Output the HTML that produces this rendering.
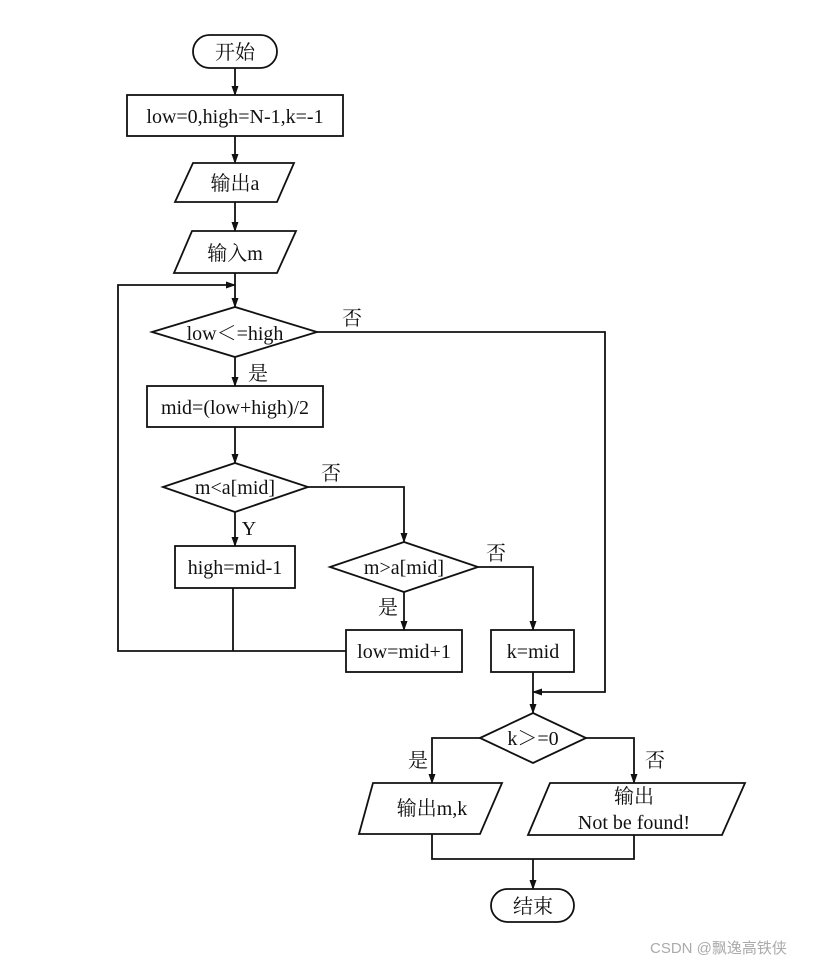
<!DOCTYPE html>
<html><head><meta charset="utf-8"><style>
html,body{margin:0;padding:0;background:#fff;}
svg text{font-family:"Liberation Serif","Noto Serif CJK SC","Noto Sans CJK SC",serif;font-size:20px;fill:#111;}
</style></head><body>
<svg width="838" height="969" viewBox="0 0 838 969" xmlns="http://www.w3.org/2000/svg">
<defs>
<marker id="a" markerWidth="10" markerHeight="10" refX="9" refY="5" orient="auto" markerUnits="userSpaceOnUse">
<path d="M0,1.5 L10,5 L0,8.5 Z" fill="#111"/>
</marker>
</defs>
<g stroke="#111" stroke-width="1.8" fill="none">
<rect x="193" y="35" width="84" height="33" rx="16.5"/>
<line x1="235" y1="68" x2="235" y2="95" marker-end="url(#a)"/>
<rect x="127" y="95" width="216" height="41"/>
<line x1="235" y1="136" x2="235" y2="163" marker-end="url(#a)"/>
<polygon points="193,163 294,163 277,202 175,202"/>
<line x1="235" y1="202" x2="235" y2="231" marker-end="url(#a)"/>
<polygon points="192,231 296,231 277,273 174,273"/>
<line x1="235" y1="273" x2="235" y2="307" marker-end="url(#a)"/>
<polyline points="346,651 118,651 118,285 235,285" marker-end="url(#a)"/>
<line x1="233" y1="588" x2="233" y2="651"/>
<polygon points="152,332 235,307 317,332 235,357"/>
<polyline points="317,332 605,332 605,692 533,692" marker-end="url(#a)"/>
<line x1="235" y1="357" x2="235" y2="386" marker-end="url(#a)"/>
<rect x="147" y="386" width="176" height="41"/>
<line x1="235" y1="427" x2="235" y2="463" marker-end="url(#a)"/>
<polygon points="163,487 235,463 308,487 235,512"/>
<polyline points="308,487 404,487 404,542" marker-end="url(#a)"/>
<line x1="235" y1="512" x2="235" y2="546" marker-end="url(#a)"/>
<rect x="175" y="546" width="120" height="42"/>
<polygon points="330,567 404,542 478,567 404,592"/>
<polyline points="478,567 533,567 533,630" marker-end="url(#a)"/>
<line x1="404" y1="592" x2="404" y2="630" marker-end="url(#a)"/>
<rect x="346" y="630" width="116" height="42"/>
<rect x="491" y="630" width="83" height="42"/>
<line x1="533" y1="672" x2="533" y2="713" marker-end="url(#a)"/>
<polygon points="480,738 533,713 586,738 533,763"/>
<polyline points="480,738 432,738 432,783" marker-end="url(#a)"/>
<polyline points="586,738 634,738 634,783" marker-end="url(#a)"/>
<polygon points="373,783 502,783 480,834 359,834"/>
<polygon points="550,783 745,783 722,835 528,835"/>
<polyline points="432,834 432,859 634,859 634,835"/>
<line x1="533" y1="859" x2="533" y2="889" marker-end="url(#a)"/>
<rect x="491" y="889" width="83" height="33" rx="16.5"/>
</g>
<g text-anchor="middle">
<text x="235" y="59">开始</text>
<text x="235" y="123">low=0,high=N-1,k=-1</text>
<text x="235" y="190">输出a</text>
<text x="235" y="260">输入m</text>
<text x="235" y="340">low＜=high</text>
<text x="235" y="414">mid=(low+high)/2</text>
<text x="235" y="494">m&lt;a[mid]</text>
<text x="235" y="574">high=mid-1</text>
<text x="404" y="574">m&gt;a[mid]</text>
<text x="404" y="658">low=mid+1</text>
<text x="533" y="658">k=mid</text>
<text x="533" y="745">k＞=0</text>
<text x="432" y="815">输出m,k</text>
<text x="634" y="803">输出</text>
<text x="634" y="829">Not be found!</text>
<text x="533" y="913">结束</text>
<text x="352" y="325">否</text>
<text x="258" y="380">是</text>
<text x="331" y="480">否</text>
<text x="249" y="535">Y</text>
<text x="496" y="560">否</text>
<text x="388" y="614">是</text>
<text x="418" y="767">是</text>
<text x="655" y="767">否</text>
</g>
<text x="650" y="953" style="font-family:'Liberation Sans','Noto Sans CJK SC',sans-serif;font-size:15px;fill:#aaa;">CSDN @飘逸高铁侠</text>
</svg>
</body></html>
